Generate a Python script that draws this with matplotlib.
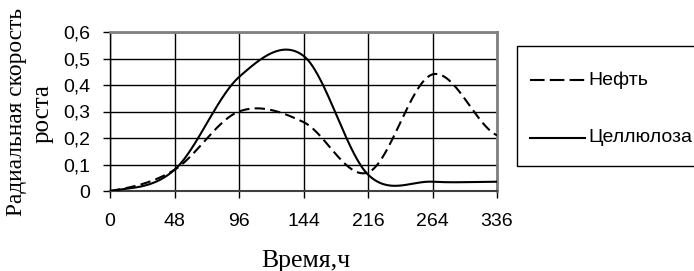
import numpy as np
import matplotlib
matplotlib.use("Agg")
import matplotlib.pyplot as plt
from matplotlib.patches import Rectangle
from matplotlib.lines import Line2D

# ---- data ----
categories = ["0", "48", "96", "144", "216", "264", "336"]
neft = [0.0, 0.08, 0.30, 0.26, 0.07, 0.44, 0.21]
cellulose = [0.0, 0.08, 0.43, 0.51, 0.062, 0.035, 0.035]
yticks = [0, 0.1, 0.2, 0.3, 0.4, 0.5, 0.6]
ytick_labels = ["0", "0,1", "0,2", "0,3", "0,4", "0,5", "0,6"]


def smooth(y, n=60):
    """Catmull-Rom style smoothing like Excel's smoothed line."""
    y = np.asarray(y, float)
    x = np.arange(len(y), dtype=float)
    yp = np.concatenate([[y[0]], y, [y[-1]]])
    xs, ys = [], []
    for i in range(len(y) - 1):
        m0 = (yp[i + 2] - yp[i]) / 2.0
        m1 = (yp[i + 3] - yp[i + 1]) / 2.0
        t = np.linspace(0, 1, n, endpoint=(i == len(y) - 2))
        h00 = 2 * t**3 - 3 * t**2 + 1
        h10 = t**3 - 2 * t**2 + t
        h01 = -2 * t**3 + 3 * t**2
        h11 = t**3 - t**2
        xs.append(x[i] + t)
        ys.append(h00 * y[i] + h10 * m0 + h01 * y[i + 1] + h11 * m1)
    return np.concatenate(xs), np.concatenate(ys)


W, H = 694, 271
fig = plt.figure(figsize=(W / 100, H / 100), dpi=100)
ax = fig.add_axes([110 / W, 1 - 191 / H, (497 - 110) / W, (191 - 32) / H])

sans = ["Liberation Sans", "DejaVu Sans"]
serif = ["Liberation Serif", "DejaVu Serif"]

xs, ys = smooth(neft)
ax.plot(xs, ys, color="black", lw=1.5, dashes=(5, 2.5), zorder=3)
xs, ys = smooth(cellulose)
ax.plot(xs, ys, color="black", lw=1.5, zorder=3)

ax.set_xlim(0, len(categories) - 1)
ax.set_ylim(0, 0.6)
ax.set_xticks(range(len(categories)))
ax.set_xticklabels(categories, family=sans, fontsize=14)
ax.set_yticks(yticks)
ax.set_yticklabels(ytick_labels, family=sans, fontsize=14)
ax.tick_params(axis="x", length=5, width=1, pad=11, direction="out", colors="black")
ax.tick_params(axis="y", length=5, width=1, pad=9, direction="out", colors="black")
ax.grid(True, color="black", lw=1)
ax.set_axisbelow(True)

for s in ["top", "right"]:
    ax.spines[s].set_color("#808080")
    ax.spines[s].set_linewidth(2)
ax.spines["left"].set_color("black")
ax.spines["left"].set_linewidth(1)
ax.spines["bottom"].set_color("#404040")
ax.spines["bottom"].set_linewidth(1.5)

# axis titles
fig.text(306 / W, 1 - 261 / H, "Время,ч", family=serif, fontsize=18.5,
         ha="center", va="center")
fig.text(17 / W, 1 - 112 / H, "Радиальная скорость", family=serif, fontsize=16.8,
         rotation=90, ha="center", va="center")
fig.text(43 / W, 1 - 114 / H, "роста", family=serif, fontsize=18,
         rotation=90, ha="center", va="center")

# legend box
fig.patches.append(Rectangle((517 / W, 1 - 166 / H), 200 / W, 120 / H,
                             transform=fig.transFigure, facecolor="white",
                             edgecolor="black", lw=1))
fig.lines.append(Line2D([530 / W, 585 / W], [1 - 80 / H, 1 - 80 / H],
                        transform=fig.transFigure, color="black", lw=1.5,
                        dashes=(7, 2.5)))
fig.lines.append(Line2D([530 / W, 585 / W], [1 - 138 / H, 1 - 138 / H],
                        transform=fig.transFigure, color="black", lw=1.5))
fig.text(588 / W, 1 - 80 / H, "Нефть", family=sans, fontsize=14,
         ha="left", va="center")
fig.text(588 / W, 1 - 138 / H, "Целлюлоза", family=sans, fontsize=14,
         ha="left", va="center")

fig.savefig("out.png", dpi=100)
